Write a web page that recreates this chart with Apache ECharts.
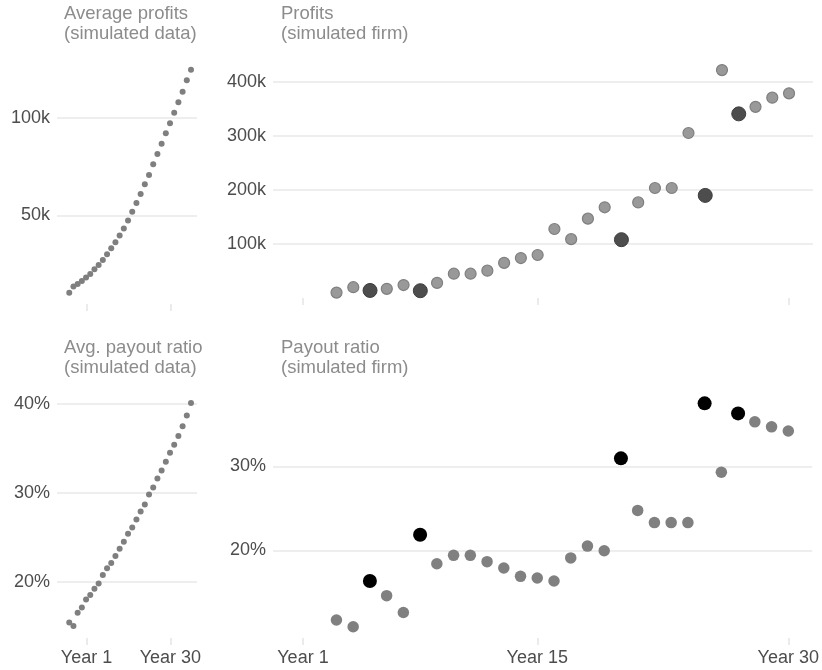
<!DOCTYPE html>
<html>
<head>
<meta charset="utf-8">
<script src="https://cdn.jsdelivr.net/npm/echarts@6/dist/echarts.min.js"></script>
<style>html,body{margin:0;padding:0;background:#fff;}#c{width:822px;height:670px;}</style>
</head>
<body>
<div id="c"></div>
<script>
// ---- data ----
const avgIndex = [1,2,3,4,5,6,7,8,9,10,11,12,13,14,15,16,17,18,19,20,21,22,23,24,25,26,27,28,29,30];
const avgProfits = [10400,13500,14800,16400,18100,20000,22400,24600,27100,30000,33100,36200,39600,43300,47400,51800,56300,60900,65900,70600,76100,81400,86600,92000,97100,102500,107800,113300,119100,124500];
const avgPayout = [15.4,15.0,16.5,17.1,18.0,18.5,19.2,19.8,20.75,21.5,22.1,22.9,23.7,24.5,25.4,26.1,27.0,27.9,28.7,29.8,30.6,31.6,32.5,33.5,34.5,35.4,36.4,37.5,38.7,40.1];
const firmYears = [3,4,5,6,7,8,9,10,11,12,13,14,15,16,17,18,19,20,21,22,23,24,25,26,27,28,29,30];
const firmProfits = [10000,20000,14000,17000,24000,13500,28000,45000,45000,50600,65000,74000,79600,127800,109000,147000,168000,108000,177000,203700,203700,305600,190000,422000,341000,354000,371000,379000];
const firmPayout = [11.7,10.9,16.35,14.6,12.6,21.85,18.4,19.4,19.4,18.65,17.9,16.9,16.7,16.35,19.1,20.5,19.95,30.95,24.75,23.3,23.3,23.3,37.5,29.3,36.3,35.3,34.7,34.2];
const highlightYears = [5,8,20,25,27];
const leftTickPos = [5.1, 25.1];
const leftTickLabels = ['Year 1', 'Year 30'];
const rightTickPos = [1, 15, 30];
const rightTickLabels = ['Year 1', 'Year 15', 'Year 30'];
const profitTicksAvg = [50000, 100000];
const profitTicksFirm = [100000, 200000, 300000, 400000];
const payoutTicksAvg = [20, 30, 40];
const payoutTicksFirm = [20, 30];
const titles = [
  ['Average profits', '(simulated data)'],
  ['Profits', '(simulated firm)'],
  ['Avg. payout ratio', '(simulated data)'],
  ['Payout ratio', '(simulated firm)']
];

// ---- chart ----
const FONT = '"Liberation Sans", Arial, sans-serif';
const labelColor = '#4d4d4d';
const gridColor = '#eeeeee';

function xAxisDef(idx, min, max, pos, labels, showLabels) {
  return {
    type: 'value', gridIndex: idx, min: min, max: max,
    axisLine: {show: false},
    splitLine: {show: false},
    axisTick: {show: true, customValues: pos, length: 7, lineStyle: {color: '#ebebeb', width: 2}},
    axisLabel: {
      show: showLabels, customValues: pos, margin: 11,
      color: labelColor, fontFamily: FONT, fontSize: 18,
      formatter: function (v) { const i = pos.indexOf(v); return i >= 0 ? labels[i] : ''; }
    }
  };
}
function yAxisDef(idx, min, max, ticks, fmt) {
  return {
    type: 'value', gridIndex: idx, min: min, max: max,
    axisLine: {show: false},
    axisTick: {show: false, customValues: ticks},
    splitLine: {show: true, lineStyle: {color: gridColor, width: 2}},
    axisLabel: {customValues: ticks, margin: 7, color: labelColor, fontFamily: FONT, fontSize: 18, formatter: fmt}
  };
}
const kFmt = v => (v / 1000) + 'k';
const pFmt = v => v + '%';

const isHi = y => highlightYears.indexOf(y) >= 0;

const option = {
  animation: false,
  backgroundColor: '#ffffff',
  title: [
    {text: titles[0].join('\n'), left: 64, top: 4},
    {text: titles[1].join('\n'), left: 281, top: 4},
    {text: titles[2].join('\n'), left: 64, top: 338},
    {text: titles[3].join('\n'), left: 281, top: 338}
  ].map(t => Object.assign(t, {padding: 0, textStyle: {color: '#8c8c8c', fontFamily: FONT, fontSize: 18.5, fontWeight: 'normal', lineHeight: 20}})),
  grid: [
    {left: 57, width: 140, top: 59, height: 245},
    {left: 273, width: 540, top: 59, height: 245},
    {left: 57, width: 140, top: 392, height: 246},
    {left: 273, width: 540, top: 392, height: 246}
  ],
  xAxis: [
    xAxisDef(0, -1.92, 31.43, leftTickPos, leftTickLabels, false),
    xAxisDef(1, -0.79, 31.43, rightTickPos, rightTickLabels, false),
    xAxisDef(2, -1.92, 31.43, leftTickPos, leftTickLabels, true),
    xAxisDef(3, -0.79, 31.43, rightTickPos, rightTickLabels, true)
  ],
  yAxis: [
    yAxisDef(0, 4600, 130000, profitTicksAvg, kFmt),
    yAxisDef(1, -11100, 442600, profitTicksFirm, kFmt),
    yAxisDef(2, 13.66, 41.35, payoutTicksAvg, pFmt),
    yAxisDef(3, 9.56, 38.85, payoutTicksFirm, pFmt)
  ],
  series: [
    {type: 'scatter', xAxisIndex: 0, yAxisIndex: 0, symbolSize: 6,
     itemStyle: {color: '#7f7f7f', opacity: 1},
     data: avgIndex.map((x, i) => [x, avgProfits[i]])},
    {type: 'scatter', xAxisIndex: 2, yAxisIndex: 2, symbolSize: 6,
     itemStyle: {color: '#7f7f7f', opacity: 1},
     data: avgIndex.map((x, i) => [x, avgPayout[i]])},
    {type: 'scatter', xAxisIndex: 1, yAxisIndex: 1, symbolSize: 11,
     itemStyle: {color: '#999999', borderColor: '#7f7f7f', borderWidth: 1.2, opacity: 1},
     data: firmYears.map((x, i) => [x, firmProfits[i]]).filter(d => !isHi(d[0]))},
    {type: 'scatter', xAxisIndex: 1, yAxisIndex: 1, symbolSize: 14,
     itemStyle: {color: '#4d4d4d', borderColor: '#3d3d3d', borderWidth: 1, opacity: 1},
     data: firmYears.map((x, i) => [x, firmProfits[i]]).filter(d => isHi(d[0]))},
    {type: 'scatter', xAxisIndex: 3, yAxisIndex: 3, symbolSize: 11.5,
     itemStyle: {color: '#808080', opacity: 1},
     data: firmYears.map((x, i) => [x, firmPayout[i]]).filter(d => !isHi(d[0]))},
    {type: 'scatter', xAxisIndex: 3, yAxisIndex: 3, symbolSize: 14,
     itemStyle: {color: '#000000', opacity: 1},
     data: firmYears.map((x, i) => [x, firmPayout[i]]).filter(d => isHi(d[0]))}
  ]
};
const chart = echarts.init(document.getElementById('c'), null, {renderer: 'canvas'});
chart.setOption(option);
</script>
</body>
</html>
